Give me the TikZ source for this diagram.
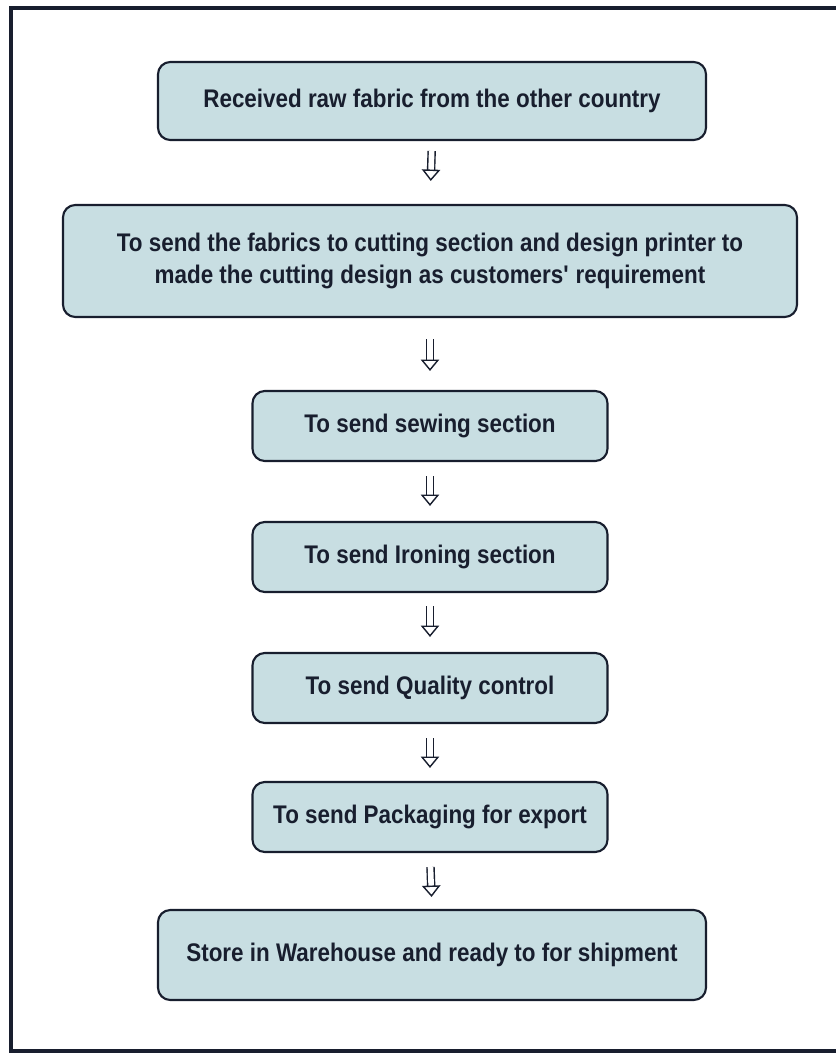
\documentclass[tikz,border=0pt]{standalone}
\usepackage{fontspec}
\setmainfont{Liberation Sans}[FakeStretch=0.88]
\usepackage{tikz}
\usetikzlibrary{arrows.meta}

\definecolor{stagefill}{RGB}{200,222,226}
\definecolor{inkline}{RGB}{24,30,46}

\begin{document}
\begin{tikzpicture}
    \tikzstyle{stage}=[rectangle, rounded corners=7pt, draw=inkline, line width=1.2pt, fill=stagefill, text=inkline, font=\bfseries\fontsize{14.5}{18.2}\selectfont, align=center, inner sep=0pt]
    \tikzstyle{flow}=[draw=inkline, double=white, double distance=3.2pt, line width=0.8pt, -{Triangle[width=10.5pt, length=6.5pt, line width=0.8pt, fill=white]}]

    \useasboundingbox (0, 0) rectangle (16.7, -21.08);
    \draw[inkline, line width=1.8pt] (0.22, -0.16) rectangle (17.2, -21.02);

    \node[stage, minimum width=10.96cm, minimum height=1.56cm] (S1) at (8.64, -2.02) {Received raw fabric from the other country};
    \node[stage, minimum width=14.68cm, minimum height=2.24cm] (S2) at (8.6, -5.22) {To send the fabrics to cutting section and design printer to\\made the cutting design as customers\textquotesingle{} requirement};

    \foreach \i/\y/\t in {3/-8.52/To send sewing section, 4/-11.14/To send Ironing section, 5/-13.76/To send Quality control, 6/-16.34/To send Packaging for export}
        \node[stage, minimum width=7.1cm, minimum height=1.4cm] (S\i) at (8.6, \y) {\t};

    \node[stage, minimum width=10.96cm, minimum height=1.8cm] (S7) at (8.64, -19.1) {Store in Warehouse and ready to for shipment};

    \foreach \a/\b/\s/\e in {1/2/0.2/0.46, 2/3/0.42/0.38, 3/4/0.28/0.3, 4/5/0.26/0.3, 5/6/0.28/0.26, 6/7/0.28/0.24}
        \draw[flow, shorten <=\s cm, shorten >=\e cm] (S\a.south) -- (S\b.north);
\end{tikzpicture}
\end{document}
